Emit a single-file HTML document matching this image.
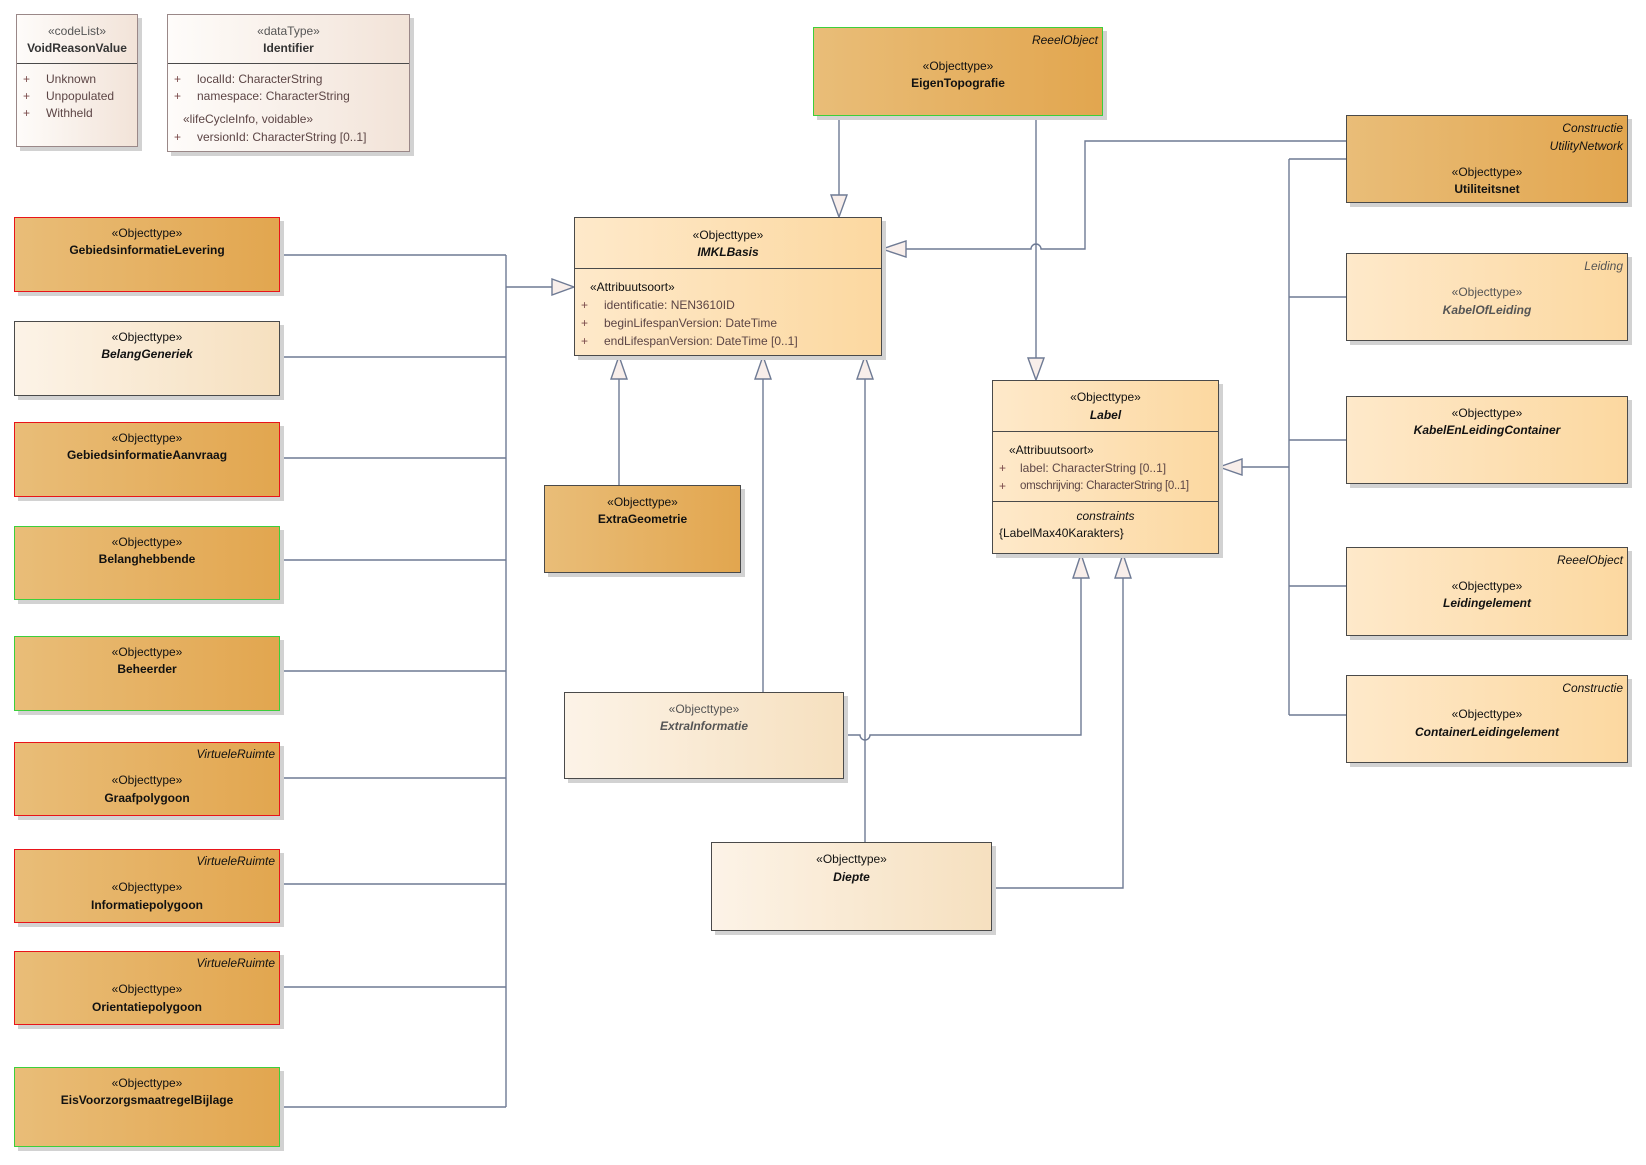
<!DOCTYPE html>
<html><head><meta charset="utf-8"><style>
body{margin:0;width:1646px;height:1165px;background:#fff;position:relative;overflow:hidden;font-family:"Liberation Sans",sans-serif;font-size:12px;color:#111}
.b{position:absolute;box-sizing:border-box;border:1.5px solid #4a4a4a;box-shadow:4px 4px 0 #d2d2d2}
.dk{background:linear-gradient(to right,#e9bd78,#e2a64f)}
.lt{background:linear-gradient(to right,#fee9ca,#fcd8a0)}
.vl{background:linear-gradient(to right,#fcf3e7,#f6e0bf)}
.cl{background:linear-gradient(to right,#fefcfa,#f2e3d8);border-color:#9a8888}
.red{border-color:#e8141a}.grn{border-color:#3ccf3c}
.t{position:absolute;left:0;right:0;text-align:center;line-height:16px;white-space:nowrap}
.n{font-weight:bold}.i{font-style:italic}
.tag{position:absolute;right:4px;font-style:italic;line-height:16px;white-space:nowrap}
.a{position:absolute;line-height:16px;white-space:nowrap;color:#5c4545}
.p{position:absolute;line-height:16px;color:#7a4a4a}
.sep{position:absolute;left:0;right:0;border-top:1.5px solid #4a4a4a}
.gr{color:#555}
</style></head><body>
<svg width="1646" height="1165" style="position:absolute;left:0;top:0" fill="none" stroke="#6e7a94" stroke-width="1.4">
<path d="M280 255H506M280 357H506M280 458H506M280 560H506M280 671H506M280 778H506M280 884H506M280 987H506M280 1107H506M506 255V1107M506 287H552"/>
<path d="M839 116V195M1036 116V358M906 249H1031A5 5 0 0 1 1041 249H1085V141H1346"/>
<path d="M619 379V485M763 379V692M865 379V842"/>
<path d="M844 735H860A5 5 0 0 0 870 735H1081V578M1123 578V888H992"/>
<path d="M1242 467H1289M1289 159V715M1289 159H1346M1289 297H1346M1289 440H1346M1289 586H1346M1289 715H1346"/>
<g fill="#f8eeea">
<path d="M574 287L552 279V295Z"/>
<path d="M839 217L831 195H847Z"/>
<path d="M882 249L906 241V257Z"/>
<path d="M1036 380L1028 358H1044Z"/>
<path d="M619 356L611 379H627Z"/><path d="M763 356L755 379H771Z"/><path d="M865 356L857 379H873Z"/>
<path d="M1081 554L1073 578H1089Z"/><path d="M1123 554L1115 578H1131Z"/>
<path d="M1219 467L1242 459V475Z"/>
</g></svg>

<div class="b cl" style="left:16px;top:14px;width:122px;height:133px">
<div class="t gr" style="top:8px">«codeList»</div><div class="t n" style="top:25px;color:#333">VoidReasonValue</div>
<div class="sep" style="top:48px"></div>
<div class="p" style="left:6px;top:56px">+</div><div class="a" style="left:29px;top:56px">Unknown</div>
<div class="p" style="left:6px;top:73px">+</div><div class="a" style="left:29px;top:73px">Unpopulated</div>
<div class="p" style="left:6px;top:90px">+</div><div class="a" style="left:29px;top:90px">Withheld</div></div>

<div class="b cl" style="left:167px;top:14px;width:243px;height:138px">
<div class="t gr" style="top:8px">«dataType»</div><div class="t n" style="top:25px;color:#333">Identifier</div>
<div class="sep" style="top:48px"></div>
<div class="p" style="left:6px;top:56px">+</div><div class="a" style="left:29px;top:56px">localId: CharacterString</div>
<div class="p" style="left:6px;top:73px">+</div><div class="a" style="left:29px;top:73px">namespace: CharacterString</div>
<div class="a" style="left:15px;top:96px">«lifeCycleInfo, voidable»</div>
<div class="p" style="left:6px;top:114px">+</div><div class="a" style="left:29px;top:114px">versionId: CharacterString [0..1]</div></div>

<div class="b dk red" style="left:14px;top:217px;width:266px;height:75px"><div class="t" style="top:7px">«Objecttype»</div><div class="t n" style="top:24px">GebiedsinformatieLevering</div></div>
<div class="b vl" style="left:14px;top:321px;width:266px;height:75px"><div class="t" style="top:7px">«Objecttype»</div><div class="t n i" style="top:24px">BelangGeneriek</div></div>
<div class="b dk red" style="left:14px;top:422px;width:266px;height:75px"><div class="t" style="top:7px">«Objecttype»</div><div class="t n" style="top:24px">GebiedsinformatieAanvraag</div></div>
<div class="b dk grn" style="left:14px;top:526px;width:266px;height:74px"><div class="t" style="top:7px">«Objecttype»</div><div class="t n" style="top:24px">Belanghebbende</div></div>
<div class="b dk grn" style="left:14px;top:636px;width:266px;height:75px"><div class="t" style="top:7px">«Objecttype»</div><div class="t n" style="top:24px">Beheerder</div></div>
<div class="b dk red" style="left:14px;top:742px;width:266px;height:74px"><div class="tag" style="top:3px">VirtueleRuimte</div><div class="t" style="top:29px">«Objecttype»</div><div class="t n" style="top:47px">Graafpolygoon</div></div>
<div class="b dk red" style="left:14px;top:849px;width:266px;height:74px"><div class="tag" style="top:3px">VirtueleRuimte</div><div class="t" style="top:29px">«Objecttype»</div><div class="t n" style="top:47px">Informatiepolygoon</div></div>
<div class="b dk red" style="left:14px;top:951px;width:266px;height:74px"><div class="tag" style="top:3px">VirtueleRuimte</div><div class="t" style="top:29px">«Objecttype»</div><div class="t n" style="top:47px">Orientatiepolygoon</div></div>
<div class="b dk grn" style="left:14px;top:1067px;width:266px;height:80px"><div class="t" style="top:7px">«Objecttype»</div><div class="t n" style="top:24px">EisVoorzorgsmaatregelBijlage</div></div>

<div class="b dk grn" style="left:813px;top:27px;width:290px;height:89px"><div class="tag" style="top:4px">ReeelObject</div><div class="t" style="top:30px">«Objecttype»</div><div class="t n" style="top:47px">EigenTopografie</div></div>

<div class="b lt" style="left:574px;top:217px;width:308px;height:139px">
<div class="t" style="top:9px">«Objecttype»</div><div class="t n i" style="top:26px">IMKLBasis</div>
<div class="sep" style="top:50px"></div>
<div class="a" style="left:15px;top:61px;color:#111">«Attribuutsoort»</div>
<div class="p" style="left:6px;top:79px">+</div><div class="a" style="left:29px;top:79px">identificatie: NEN3610ID</div>
<div class="p" style="left:6px;top:97px">+</div><div class="a" style="left:29px;top:97px">beginLifespanVersion: DateTime</div>
<div class="p" style="left:6px;top:115px">+</div><div class="a" style="left:29px;top:115px">endLifespanVersion: DateTime [0..1]</div></div>

<div class="b dk" style="left:544px;top:485px;width:197px;height:88px"><div class="t" style="top:8px">«Objecttype»</div><div class="t n" style="top:25px">ExtraGeometrie</div></div>
<div class="b vl" style="left:564px;top:692px;width:280px;height:87px"><div class="t gr" style="top:8px">«Objecttype»</div><div class="t n i gr" style="top:25px">ExtraInformatie</div></div>
<div class="b vl" style="left:711px;top:842px;width:281px;height:89px"><div class="t" style="top:8px">«Objecttype»</div><div class="t n i" style="top:26px">Diepte</div></div>

<div class="b lt" style="left:992px;top:380px;width:227px;height:174px">
<div class="t" style="top:8px">«Objecttype»</div><div class="t n i" style="top:26px">Label</div>
<div class="sep" style="top:50px"></div>
<div class="a" style="left:16px;top:61px;color:#111">«Attribuutsoort»</div>
<div class="p" style="left:6px;top:79px">+</div><div class="a" style="left:27px;top:79px">label: CharacterString [0..1]</div>
<div class="p" style="left:6px;top:97px">+</div><div class="a" style="left:27px;top:97px;font-size:11.5px;letter-spacing:-0.3px">omschrijving: CharacterString [0..1]</div>
<div class="sep" style="top:120px"></div>
<div class="t i" style="top:127px">constraints</div>
<div class="a" style="left:6px;top:144px;color:#111">{LabelMax40Karakters}</div></div>

<div class="b dk" style="left:1346px;top:115px;width:282px;height:88px"><div class="tag" style="top:4px">Constructie</div><div class="tag" style="top:22px">UtilityNetwork</div><div class="t" style="top:48px">«Objecttype»</div><div class="t n" style="top:65px">Utiliteitsnet</div></div>
<div class="b lt" style="left:1346px;top:253px;width:282px;height:88px"><div class="tag gr" style="top:4px">Leiding</div><div class="t gr" style="top:30px">«Objecttype»</div><div class="t n i gr" style="top:48px">KabelOfLeiding</div></div>
<div class="b lt" style="left:1346px;top:396px;width:282px;height:88px"><div class="t" style="top:8px">«Objecttype»</div><div class="t n i" style="top:25px">KabelEnLeidingContainer</div></div>
<div class="b lt" style="left:1346px;top:547px;width:282px;height:89px"><div class="tag" style="top:4px">ReeelObject</div><div class="t" style="top:30px">«Objecttype»</div><div class="t n i" style="top:47px">Leidingelement</div></div>
<div class="b lt" style="left:1346px;top:675px;width:282px;height:88px"><div class="tag" style="top:4px">Constructie</div><div class="t" style="top:30px">«Objecttype»</div><div class="t n i" style="top:48px">ContainerLeidingelement</div></div>
</body></html>
